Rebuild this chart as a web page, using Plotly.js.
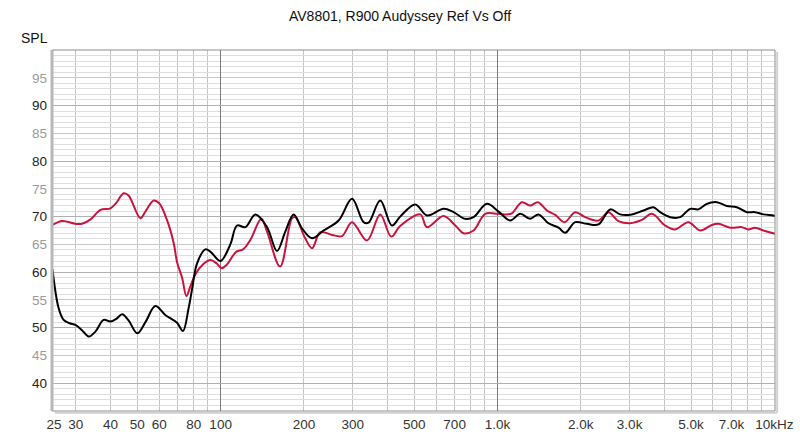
<!DOCTYPE html>
<html>
<head>
<meta charset="utf-8">
<script src="https://cdn.plot.ly/plotly-3.0.1.min.js"></script>
<style>html,body{margin:0;padding:0;background:#fff;}#chart{width:800px;height:438px;}</style>
</head>
<body>
<div id="chart"></div>
<script>
// Audyssey Off (black)
const freqOff = [24.7,26.0,27.1,28.5,29.9,31.5,33.4,35.3,37.8,40,42,44.1,46.5,50,53.5,58.1,63.1,69.6,73.1,76.6,78.9,82.2,88.1,91.8,99.8,108.4,114.6,122.8,133.5,147.1,159.8,171.2,183.5,196.7,213.8,235.4,266.7,298.2,328.2,342,377,415.6,445,504.6,556,638.5,694,764.5,819,915.6,1004,1111,1208,1312,1406,1528,1661,1756,1908,2102,2315,2552,2773,3057,3367,3658,3868,4203,4567,4963,5315,5702,6197,6734,7317,7951,8518,9127,9917,10050];
const splOff  = [60.5,53.5,51.4,50.8,50.5,49.6,48.4,49.3,51.4,51.1,51.6,52.4,51.3,49.0,51.0,53.9,52.3,50.9,49.4,53.5,57.0,61.6,64.1,63.7,62.0,65.0,68.4,68.1,70.4,68.1,63.8,67.3,70.4,67.9,66.1,67.5,69.3,73.2,69.0,68.9,72.9,68.4,70.0,72.2,70.2,71.4,70.8,69.6,69.9,72.3,71.0,69.3,70.5,69.6,70.4,68.8,68.0,67.1,69.0,68.7,68.6,71.3,70.4,70.4,71.1,71.7,70.8,69.9,69.9,71.4,71.3,72.3,72.6,71.9,71.7,70.8,70.8,70.4,70.2,70.1];

// Audyssey Reference (red)
const freqRef = [24.7,26.8,29.9,31.6,33.9,36.8,40,41.7,44.7,46.5,51.3,53.5,57.3,60,64.0,67.7,69.6,72.6,75.2,77.7,81.0,86.8,91.8,96.6,100.7,105,114.0,120.5,128,140.3,147.1,164,181,186,202,214,229,252.5,274.5,298,337.8,377,413,445,526,556,638,704,754,819,903,1004,1081,1127,1225,1312,1399,1508,1616,1746,1908,2073,2315,2515,2734,3014,3320,3610,4030,4380,4892,5393,5943,6280,6920,7627,8055,8518,9127,9917,10050];
const splRef  = [68.5,69.2,68.7,68.7,69.5,71.2,71.5,72.3,74.2,73.8,69.7,70.9,72.9,72.4,69.4,65.2,61.8,59.0,55.7,57.4,59.6,61.5,62.2,61.6,60.7,61.3,63.7,64.1,65.8,69.6,67.3,61.0,69.7,69.9,66.1,64.3,67.2,66.7,66.5,69.0,65.7,70.4,66.4,68.3,70.4,68.1,70.1,68.4,67.0,67.5,70.5,70.5,70.4,70.6,72.6,72.0,72.6,71.1,70.3,69.0,70.8,69.9,69.3,70.8,69.2,68.8,69.4,70.5,68.4,67.7,69.0,67.5,68.5,68.7,68.0,68.1,67.7,68.0,67.5,67.0,66.9];

const xTickVals = [25,30,40,50,60,80,100,200,300,500,700,1000,2000,3000,5000,7000,10000];
const xTickText = ['25','30','40','50','60','80','100','200','300','500','700','1.0k','2.0k','3.0k','5.0k','7.0k','10kHz'];
const xGridVals = [30,40,50,60,70,80,90,200,300,400,500,600,700,800,900,2000,3000,4000,5000,6000,7000,8000,9000];
const xMajorGrid = [100,1000];
const yTickVals = [40,45,50,55,60,65,70,75,80,85,90,95];
const yTickText = yTickVals.map(v => v % 10 === 0 ? String(v) : '<span style="color:#9a9a9a">' + v + '</span>');

const title = 'AV8801, R900 Audyssey Ref Vs Off';
const xRange = [Math.log10(24.6), Math.log10(10050)];
const yRange = [35, 100];

const traces = [
  {x: freqRef, y: splRef, type: 'scatter', mode: 'lines', name: 'Audyssey Ref',
   line: {color: '#c8143f', width: 2, shape: 'spline', smoothing: 1.0}, hoverinfo: 'skip'},
  {x: freqOff, y: splOff, type: 'scatter', mode: 'lines', name: 'Audyssey Off',
   line: {color: '#000000', width: 2, shape: 'spline', smoothing: 1.0}, hoverinfo: 'skip'}
];

const layout = {
  width: 800, height: 438,
  margin: {l: 52, r: 25, t: 50, b: 27, pad: 0},
  paper_bgcolor: '#ffffff', plot_bgcolor: '#ffffff',
  showlegend: false,
  font: {family: 'Liberation Sans, Arial, sans-serif', size: 13, color: '#222'},
  title: {text: title, x: 0.5, xanchor: 'center', y: 0.963, yanchor: 'middle', font: {size: 14, color: '#111'}},
  xaxis: {
    type: 'log', range: xRange, tickmode: 'array', tickvals: xTickVals, ticktext: xTickText,
    showgrid: false, zeroline: false, ticks: '', showline: false,
    tickfont: {size: 13.5, color: '#333'}, ticklabelstandoff: 3,
    minor: {tickmode: 'array', tickvals: xGridVals, showgrid: true, gridcolor: '#c4c4c4', gridwidth: 1, ticks: ''}
  },
  xaxis2: {
    type: 'log', range: xRange, overlaying: 'x', tickmode: 'array', tickvals: xMajorGrid,
    showticklabels: false, showgrid: true, gridcolor: '#7a7a7a', gridwidth: 1, zeroline: false, ticks: ''
  },
  yaxis: {
    range: yRange, tickmode: 'array', tickvals: yTickVals, ticktext: yTickText,
    showgrid: true, gridcolor: '#c8c8c8', gridwidth: 1, zeroline: false, ticks: '', showline: false,
    tickfont: {size: 13.5, color: '#222'}, ticklabelstandoff: 4,
    minor: {dtick: 1, showgrid: true, gridcolor: '#dedede', gridwidth: 1, ticks: ''}
  },
  yaxis2: {
    range: yRange, overlaying: 'y', dtick: 10, tick0: 0, showticklabels: false,
    showgrid: true, gridcolor: '#b0b0b0', gridwidth: 1, zeroline: false, ticks: ''
  },
  annotations: [
    {text: 'SPL', xref: 'paper', yref: 'paper', x: -0.024, y: 1.0, xanchor: 'center', yanchor: 'bottom',
     yshift: 2, showarrow: false, font: {size: 14, color: '#111'}}
  ],
  shapes: [
    {type: 'rect', xref: 'paper', yref: 'paper', x0: 0, x1: 1, y0: 0, y1: 1,
     line: {color: '#8c8c8c', width: 1}, layer: 'above'},
    {type: 'line', xref: 'paper', yref: 'paper', x0: 0, x1: 0, y0: 0, y1: 1,
     line: {color: '#b8b8b8', width: 3}, layer: 'above'},
    {type: 'line', xref: 'paper', yref: 'paper', x0: 1.003, x1: 1.003, y0: -0.004, y1: 0.995,
     line: {color: '#d0d0d0', width: 2}, layer: 'above'},
    {type: 'line', xref: 'paper', yref: 'paper', x0: 0.004, x1: 1.003, y0: -0.005, y1: -0.005,
     line: {color: '#d0d0d0', width: 2}, layer: 'above'}
  ]
};

traces.push({x: [100], y: [50], xaxis: 'x2', yaxis: 'y2', mode: 'markers', marker: {opacity: 0}, hoverinfo: 'skip', showlegend: false});

Plotly.newPlot('chart', traces, layout, {staticPlot: true, displayModeBar: false});
</script>
</body>
</html>
